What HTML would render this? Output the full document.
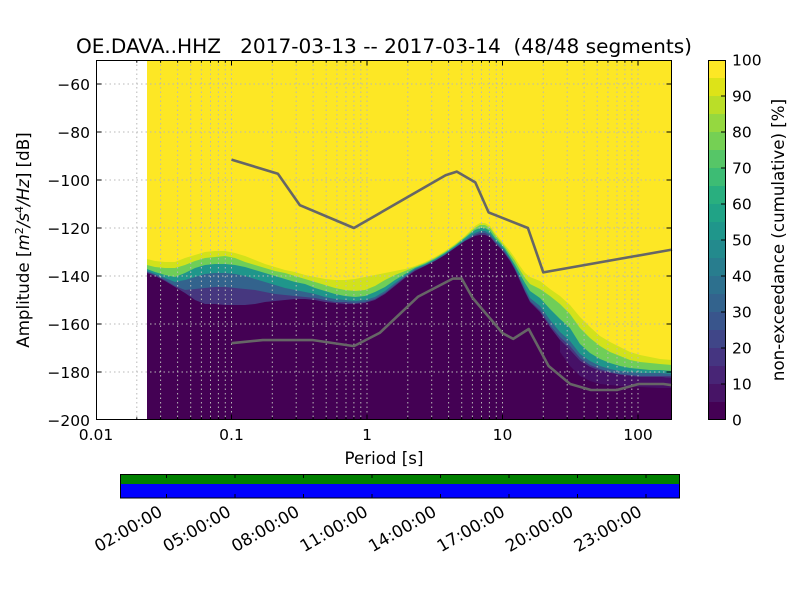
<!DOCTYPE html>
<html><head><meta charset="utf-8"><style>
html,body{margin:0;padding:0;background:#fff;}
svg{display:block;font-family:"DejaVu Sans","Liberation Sans",sans-serif;}
</style></head><body>
<svg width="800" height="600" viewBox="0 0 800 600" xmlns="http://www.w3.org/2000/svg">
<rect width="800" height="600" fill="#fff"/>
<!-- heatmap -->
<rect x="147" y="60" width="525" height="360" fill="#fde725"/>
<polygon fill="#d2e21b" points="147,259 155,261 165,262 175,262 185,258 195,255 205,252 215,251 225,251 235,253 245,256 255,260 265,264 275,267 285,270 295,272 305,275 315,277 325,279 335,280 345,280 355,279 365,277 375,275 385,273 395,271 405,269 415,266 425,262 435,257 445,251 455,244 465,236 475,226 480,223 485,223 490,226 495,233 500,239 505,245 510,251 515,258 520,266 525,273 530,277 540,281 550,289 560,296 570,305 580,317 590,327 600,336 610,342 620,347 630,352 640,355 650,357 660,359 672,360 672,420 147,420"/>
<polygon fill="#6fce58" points="147,265 155,267 165,268 175,268 185,265 195,261 205,258 215,257 225,256 235,258 245,262 255,265 265,268 275,271 285,273 295,276 305,279 315,282 325,285 335,288 345,290 355,291 365,290 375,286 385,280 395,275 405,271 415,267 425,263 435,258 445,252 455,245 465,237 475,228 480,225 485,225 490,228 495,235 500,241 505,247 510,254 515,261 520,270 525,278 530,284 540,289 550,296 560,304 570,314 580,328 590,338 600,346 610,352 620,356 630,360 640,362 650,363 660,364 672,365 672,420 147,420"/>
<polygon fill="#1f968b" points="147,269 155,272 165,275 175,277 185,273 195,268 205,265 215,264 225,264 235,265 245,267 255,270 265,273 275,276 285,279 295,282 305,284 315,288 325,291 335,294 345,296 355,297 365,296 375,292 385,287 395,280 405,274 415,268 425,264 435,259 445,253 455,246 465,238 475,230 480,228 485,228 490,231 495,238 500,243 505,249 510,257 515,265 520,274 525,283 530,291 540,298 550,309 560,319 570,328 580,344 590,353 600,359 610,363 620,366 630,368 640,369 650,370 660,370 672,371 672,420 147,420"/>
<polygon fill="#33638d" points="147,271 155,274 165,278 175,282 185,280 195,277 205,274 215,273 225,273 235,274 245,276 255,279 265,282 275,285 285,288 295,290 305,292 315,294 325,297 335,299 345,300 355,301 365,300 375,297 385,291 395,283 405,276 415,269 425,265 435,260 445,254 455,247 465,240 475,233 480,231 485,231 490,234 495,240 500,245 505,251 510,259 515,268 520,278 525,288 530,298 540,306 550,320 560,332 570,341 580,354 590,361 600,366 610,369 620,371 630,372 640,373 650,373 660,373 672,374 672,420 147,420"/>
<polygon fill="#46377f" points="147,272 155,275 165,280 175,286 185,290 195,289 205,288 215,287 225,287 235,288 245,289 255,290 265,292 275,294 285,295 295,296 305,297 315,298 325,300 335,302 345,302 355,303 365,302 375,299 385,293 395,285 405,277 415,270 425,266 435,261 445,255 455,248 465,241 475,235 480,233 485,233 490,236 495,242 500,247 505,253 510,260 515,269 520,280 525,291 530,301 540,310 550,325 560,337 570,346 580,358 590,365 600,369 610,372 620,374 630,375 640,376 650,376 660,376 672,376 672,420 147,420"/>
<polygon fill="#440154" points="147,273 155,276 165,281 175,287 185,293 195,300 205,304 215,304 225,305 235,305 245,305 255,304 265,302 275,301 285,300 295,299 305,299 315,300 325,302 335,303 345,304 355,304 365,303 375,300 385,294 395,286 405,278 415,271 425,266 435,261 445,255 455,248 465,241 475,236 480,235 485,235 490,237 495,243 500,248 505,254 510,261 515,270 520,281 525,292 530,302 540,312 550,327 560,340 570,350 580,361 590,367 600,371 610,373 620,375 630,376 640,377 650,377 660,377 672,378 672,420 147,420"/>
<polygon fill="#461167" points="560,340 570,350 580,361 590,367 600,371 610,373 620,375 630,376 640,377 650,377 660,377 672,378 672,388 660,388 640,387 620,386 600,384 590,381 580,376 570,366 560,352"/>
<!-- grid -->
<g stroke="#b8b8b8" stroke-width="1" stroke-dasharray="1.5,3" fill="none">
<path d="M96,84H672M96,132H672M96,180H672M96,228H672M96,276H672M96,324H672M96,372H672"/>
<path d="M136.8,60V420M160.6,60V420M177.6,60V420M190.7,60V420M201.4,60V420M210.5,60V420M218.4,60V420M225.3,60V420M231.5,60V420M272.3,60V420M296.2,60V420M313.1,60V420M326.2,60V420M336.9,60V420M346,60V420M353.9,60V420M360.8,60V420M367,60V420M407.8,60V420M431.7,60V420M448.6,60V420M461.7,60V420M472.4,60V420M481.5,60V420M489.4,60V420M496.3,60V420M502.5,60V420M543.3,60V420M567.2,60V420M584.1,60V420M597.2,60V420M607.9,60V420M617,60V420M624.9,60V420M631.8,60V420M638,60V420"/>
</g>
<!-- noise models -->
<polyline fill="none" stroke="#666" stroke-width="2.6" stroke-linejoin="round" points="231.5,159.6 277.9,173.8 299.9,205.2 353.9,228 445.6,175.2 456.8,171.6 475.3,182.4 488.6,212.4 527.9,228 543.3,272.4 672,249.6"/>
<polyline fill="none" stroke="#666" stroke-width="2.6" stroke-linejoin="round" points="231.5,343.2 262.7,340.1 313.1,340.1 353.9,346.1 379.7,332.9 418.2,296.6 452.8,278.6 461.7,278.6 472.4,297.6 502.5,333.1 513.2,338.9 528.7,329 548.6,366 570.2,384 591,390 617,390 638.6,384 663.4,384 672,385.2"/>
<!-- ticks -->
<g stroke="#000" stroke-width="1">
<path d="M96,84h5.5M96,132h5.5M96,180h5.5M96,228h5.5M96,276h5.5M96,324h5.5M96,372h5.5M672,84h-5.5M672,132h-5.5M672,180h-5.5M672,228h-5.5M672,276h-5.5M672,324h-5.5M672,372h-5.5"/>
<path d="M231.5,420v-5.5M367,420v-5.5M502.5,420v-5.5M638,420v-5.5M231.5,60v5.5M367,60v5.5M502.5,60v5.5M638,60v5.5"/>
<path d="M136.8,420v-2.8M160.6,420v-2.8M177.6,420v-2.8M190.7,420v-2.8M201.4,420v-2.8M210.5,420v-2.8M218.4,420v-2.8M225.3,420v-2.8M272.3,420v-2.8M296.2,420v-2.8M313.1,420v-2.8M326.2,420v-2.8M336.9,420v-2.8M346,420v-2.8M353.9,420v-2.8M360.8,420v-2.8M407.8,420v-2.8M431.7,420v-2.8M448.6,420v-2.8M461.7,420v-2.8M472.4,420v-2.8M481.5,420v-2.8M489.4,420v-2.8M496.3,420v-2.8M543.3,420v-2.8M567.2,420v-2.8M584.1,420v-2.8M597.2,420v-2.8M607.9,420v-2.8M617,420v-2.8M624.9,420v-2.8M631.8,420v-2.8"/>
<path d="M136.8,60v2.8M160.6,60v2.8M177.6,60v2.8M190.7,60v2.8M201.4,60v2.8M210.5,60v2.8M218.4,60v2.8M225.3,60v2.8M272.3,60v2.8M296.2,60v2.8M313.1,60v2.8M326.2,60v2.8M336.9,60v2.8M346,60v2.8M353.9,60v2.8M360.8,60v2.8M407.8,60v2.8M431.7,60v2.8M448.6,60v2.8M461.7,60v2.8M472.4,60v2.8M481.5,60v2.8M489.4,60v2.8M496.3,60v2.8M543.3,60v2.8M567.2,60v2.8M584.1,60v2.8M597.2,60v2.8M607.9,60v2.8M617,60v2.8M624.9,60v2.8M631.8,60v2.8"/>
</g>
<rect x="96.5" y="60.5" width="575" height="359" fill="none" stroke="#000" stroke-width="1"/>
<!-- y tick labels -->
<g font-size="15.5" fill="#000" text-anchor="end">
<text x="90" y="90">−60</text>
<text x="90" y="138">−80</text>
<text x="90" y="186">−100</text>
<text x="90" y="234">−120</text>
<text x="90" y="282">−140</text>
<text x="90" y="330">−160</text>
<text x="90" y="378">−180</text>
<text x="90" y="426">−200</text>
</g>
<!-- x tick labels -->
<g font-size="15.5" fill="#000" text-anchor="middle">
<text x="96" y="440">0.01</text>
<text x="231.5" y="440">0.1</text>
<text x="367" y="440">1</text>
<text x="502.5" y="440">10</text>
<text x="638" y="440">100</text>
</g>
<text x="384" y="464" font-size="16.67" text-anchor="middle">Period [s]</text>
<text x="76" y="53" font-size="19.4" textLength="616" lengthAdjust="spacingAndGlyphs" xml:space="preserve">OE.DAVA..HHZ   2017-03-13 -- 2017-03-14  (48/48 segments)</text>
<text transform="translate(29,240) rotate(-90)" font-size="16.67" text-anchor="middle">Amplitude [<tspan font-style="italic">m</tspan><tspan dy="-6" font-size="11">2</tspan><tspan dy="6" font-style="italic">/s</tspan><tspan dy="-6" font-size="11">4</tspan><tspan dy="6" font-style="italic">/Hz</tspan>] [dB]</text>
<!-- colorbar -->
<g>
<rect x="708" y="402" width="18" height="18" fill="#440154"/>
<rect x="708" y="384" width="18" height="18" fill="#471466"/>
<rect x="708" y="366" width="18" height="18" fill="#482576"/>
<rect x="708" y="348" width="18" height="18" fill="#453581"/>
<rect x="708" y="330" width="18" height="18" fill="#404688"/>
<rect x="708" y="312" width="18" height="18" fill="#39558c"/>
<rect x="708" y="294" width="18" height="18" fill="#33638d"/>
<rect x="708" y="276" width="18" height="18" fill="#2d708e"/>
<rect x="708" y="258" width="18" height="18" fill="#287d8e"/>
<rect x="708" y="240" width="18" height="18" fill="#238a8d"/>
<rect x="708" y="222" width="18" height="18" fill="#1f968b"/>
<rect x="708" y="204" width="18" height="18" fill="#20a386"/>
<rect x="708" y="186" width="18" height="18" fill="#29af7f"/>
<rect x="708" y="168" width="18" height="18" fill="#3dbc74"/>
<rect x="708" y="150" width="18" height="18" fill="#56c667"/>
<rect x="708" y="132" width="18" height="18" fill="#75d054"/>
<rect x="708" y="114" width="18" height="18" fill="#95d840"/>
<rect x="708" y="96" width="18" height="18" fill="#bade28"/>
<rect x="708" y="78" width="18" height="18" fill="#dde318"/>
<rect x="708" y="60" width="18" height="18" fill="#fde725"/>
</g>
<path stroke="#000" stroke-width="1" d="M726,96h-5M726,132h-5M726,168h-5M726,204h-5M726,240h-5M726,276h-5M726,312h-5M726,348h-5M726,384h-5"/>
<rect x="708.5" y="60.5" width="17" height="359" fill="none" stroke="#000" stroke-width="1"/>
<g font-size="15.5" fill="#000">
<text x="732" y="65.5">100</text>
<text x="732" y="101.5">90</text>
<text x="732" y="137.5">80</text>
<text x="732" y="173.5">70</text>
<text x="732" y="209.5">60</text>
<text x="732" y="245.5">50</text>
<text x="732" y="281.5">40</text>
<text x="732" y="317.5">30</text>
<text x="732" y="353.5">20</text>
<text x="732" y="389.5">10</text>
<text x="732" y="425.5">0</text>
</g>
<text transform="translate(784,240) rotate(-90)" font-size="16.67" text-anchor="middle">non-exceedance (cumulative) [%]</text>
<!-- timeline bar -->
<rect x="120" y="474" width="560" height="10" fill="#008000"/>
<rect x="120" y="484" width="560" height="14" fill="#0000ff"/>
<rect x="120.5" y="474.5" width="559" height="23.5" fill="none" stroke="#000" stroke-width="1"/>
<path stroke="#000" stroke-width="1" d="M166.5,474v4M235,474v4M303.5,474v4M372,474v4M440.5,474v4M509,474v4M577.5,474v4M646,474v4M166.5,498v-4M235,498v-4M303.5,498v-4M372,498v-4M440.5,498v-4M509,498v-4M577.5,498v-4M646,498v-4"/>
<g font-size="16.67" fill="#000" text-anchor="end">
<text transform="translate(163.5,515) rotate(-30)">02:00:00</text>
<text transform="translate(232,515) rotate(-30)">05:00:00</text>
<text transform="translate(300.5,515) rotate(-30)">08:00:00</text>
<text transform="translate(369,515) rotate(-30)">11:00:00</text>
<text transform="translate(437.5,515) rotate(-30)">14:00:00</text>
<text transform="translate(506,515) rotate(-30)">17:00:00</text>
<text transform="translate(574.5,515) rotate(-30)">20:00:00</text>
<text transform="translate(643,515) rotate(-30)">23:00:00</text>
</g>
</svg>
</body></html>
